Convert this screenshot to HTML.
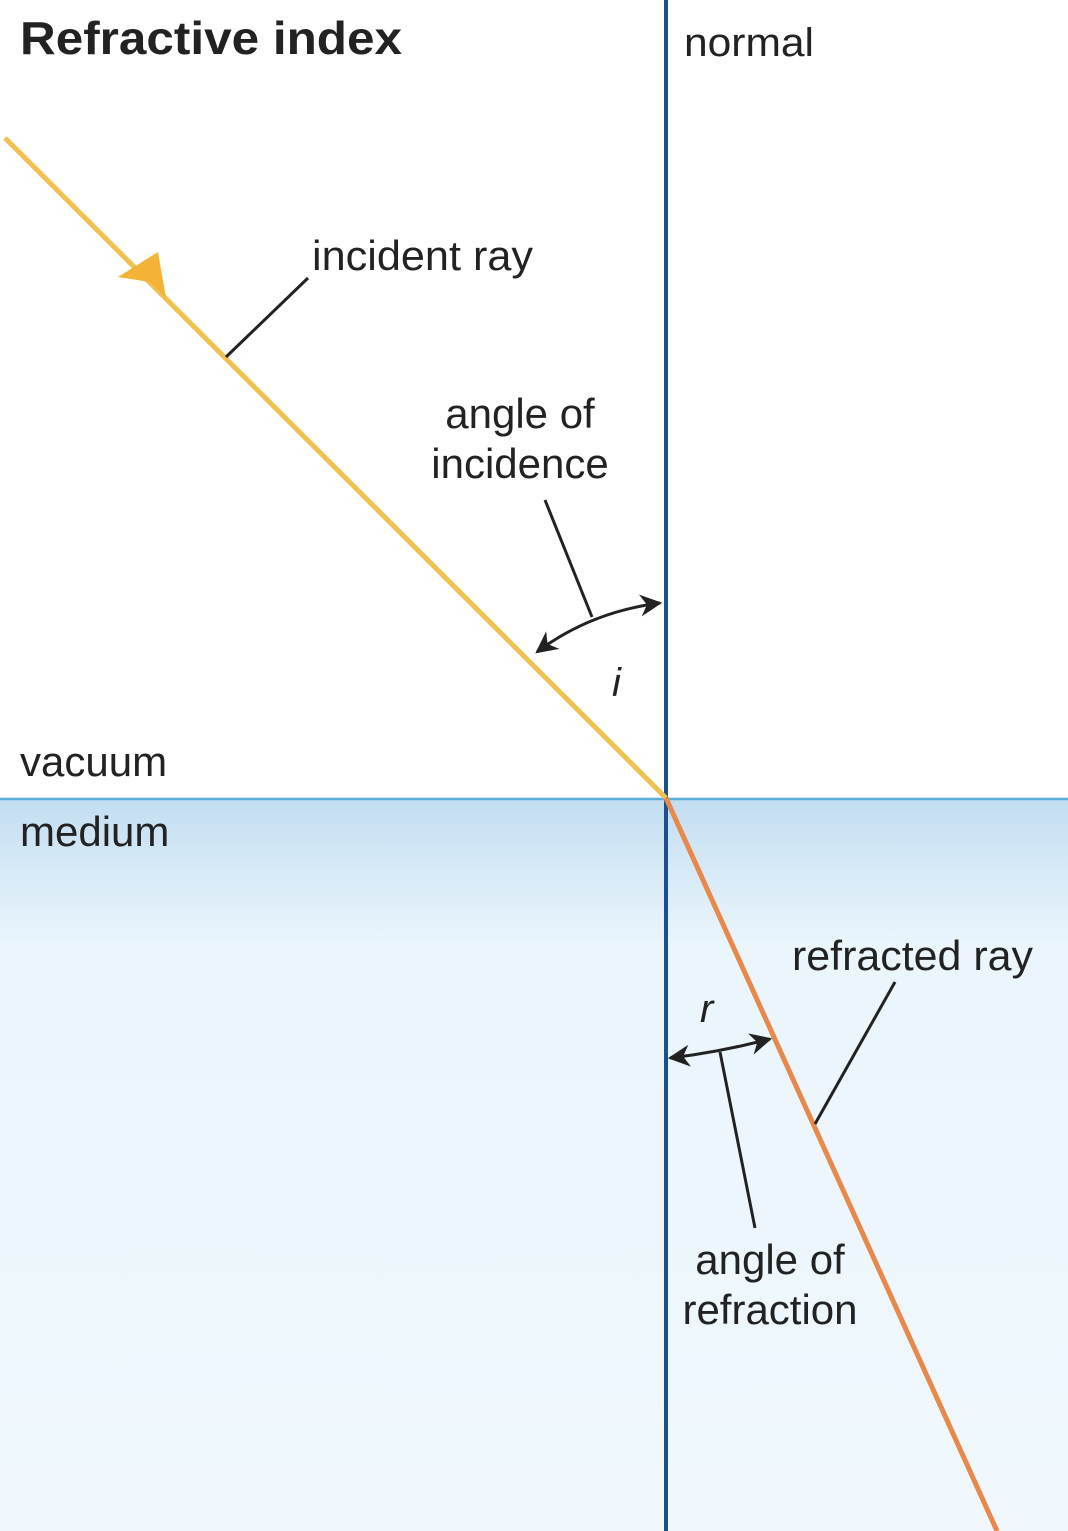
<!DOCTYPE html>
<html><head><style>
body{margin:0;width:1068px;height:1531px;overflow:hidden;background:#fff}
svg{display:block}
text{font-family:"Liberation Sans",sans-serif;fill:#222}
</style></head><body>
<svg width="1068" height="1531" viewBox="0 0 1068 1531">
<defs>
<linearGradient id="g" x1="0" y1="0" x2="0" y2="1">
<stop offset="0" stop-color="#c2ddf1"/><stop offset="0.06" stop-color="#cfe5f5"/><stop offset="0.2" stop-color="#eaf5fc"/><stop offset="1" stop-color="#f0f8fd"/>
</linearGradient>
<marker id="a" viewBox="0 0 10 10" refX="9" refY="5" markerWidth="26" markerHeight="22" orient="auto-start-reverse" markerUnits="userSpaceOnUse"><path d="M0,0 L10,5 L0,10 L3,5z" fill="#222"/></marker>
</defs>
<rect x="0" y="799" width="1068" height="732" fill="url(#g)"/>
<line x1="0" y1="799" x2="1068" y2="799" stroke="#5aaedc" stroke-width="2.5"/>
<line x1="666" y1="0" x2="666" y2="1531" stroke="#1b4f8d" stroke-width="4"/>
<line x1="5" y1="138" x2="666" y2="798" stroke="#f0c050" stroke-width="5"/>
<path d="M118,277 L158,252 L166,298 L150,282 Z" fill="#f5b335"/>
<line x1="666" y1="798" x2="997" y2="1531" stroke="#e8884a" stroke-width="5"/>
<g stroke="#222" stroke-width="3" fill="none">
<line x1="308" y1="278" x2="226" y2="357"/>
<line x1="545" y1="500" x2="592" y2="617"/>
<path d="M537,652 Q590,612 660,603" marker-start="url(#a)" marker-end="url(#a)"/>
<line x1="720" y1="1052" x2="755" y2="1228"/>
<path d="M670,1058 Q720,1052 770,1039" marker-start="url(#a)" marker-end="url(#a)"/>
<line x1="895" y1="982" x2="815" y2="1124"/>
</g>
<text x="20" y="54" font-size="46" font-weight="bold" textLength="382" lengthAdjust="spacingAndGlyphs">Refractive index</text>
<text x="684" y="56" font-size="40" textLength="130" lengthAdjust="spacingAndGlyphs">normal</text>
<text x="312" y="270" font-size="42" textLength="221" lengthAdjust="spacingAndGlyphs">incident ray</text>
<text x="520" y="428" font-size="42" text-anchor="middle">angle of</text>
<text x="520" y="478" font-size="42" text-anchor="middle">incidence</text>
<text x="612" y="696" font-size="40" font-style="italic">i</text>
<text x="20" y="776" font-size="42">vacuum</text>
<text x="20" y="846" font-size="42">medium</text>
<text x="792" y="970" font-size="42" textLength="241" lengthAdjust="spacingAndGlyphs">refracted ray</text>
<text x="700" y="1022" font-size="40" font-style="italic">r</text>
<text x="770" y="1274" font-size="42" text-anchor="middle">angle of</text>
<text x="770" y="1324" font-size="42" text-anchor="middle">refraction</text>
</svg>
</body></html>
